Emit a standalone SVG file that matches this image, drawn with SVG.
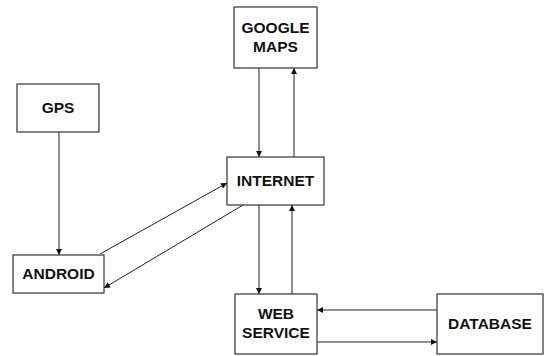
<svg xmlns="http://www.w3.org/2000/svg" width="547" height="356" viewBox="0 0 547 356">
<defs>
<style>
.box{fill:#fff;stroke:#333;stroke-width:1.2}
.lbl{font-family:"Liberation Sans",Arial,sans-serif;font-weight:bold;font-size:15.5px;fill:#111;text-anchor:middle}
.con{stroke:#222;stroke-width:1;fill:none;marker-end:url(#ah)}
</style>
<marker id="ah" viewBox="0 0 10 10" refX="10" refY="5" markerWidth="7" markerHeight="6" markerUnits="userSpaceOnUse" orient="auto">
<path d="M0,0 L10,5 L0,10 z" fill="#111"/>
</marker>
</defs>
<rect width="547" height="356" fill="#fff"/>
<g id="connectors">
<line class="con" x1="259" y1="68" x2="259" y2="157"/>
<line class="con" x1="294" y1="157" x2="294" y2="68"/>
<line class="con" x1="59" y1="132" x2="59" y2="255"/>
<line class="con" x1="100" y1="254" x2="227" y2="183"/>
<line class="con" x1="243" y1="205" x2="104" y2="288"/>
<line class="con" x1="259" y1="205" x2="259" y2="294"/>
<line class="con" x1="292" y1="294" x2="292" y2="205"/>
<line class="con" x1="437" y1="310" x2="317" y2="310"/>
<line class="con" x1="317" y1="342" x2="437" y2="342"/>
</g>
<g id="google-maps">
<rect class="box" x="234" y="7" width="83" height="61"/>
<text class="lbl" x="275.5" y="33">GOOGLE</text>
<text class="lbl" x="275.5" y="52">MAPS</text>
</g>
<g id="gps">
<rect class="box" x="17" y="84" width="82" height="48"/>
<text class="lbl" x="58" y="113">GPS</text>
</g>
<g id="internet">
<rect class="box" x="227" y="157" width="97" height="48"/>
<text class="lbl" x="275.5" y="186">INTERNET</text>
</g>
<g id="android">
<rect class="box" x="13" y="255" width="91" height="38"/>
<text class="lbl" x="58.5" y="279">ANDROID</text>
</g>
<g id="web-service">
<rect class="box" x="235" y="294" width="82" height="60"/>
<text class="lbl" x="276" y="319">WEB</text>
<text class="lbl" x="276" y="338">SERVICE</text>
</g>
<g id="database">
<rect class="box" x="437" y="294" width="106" height="60"/>
<text class="lbl" x="490" y="329">DATABASE</text>
</g>
</svg>
